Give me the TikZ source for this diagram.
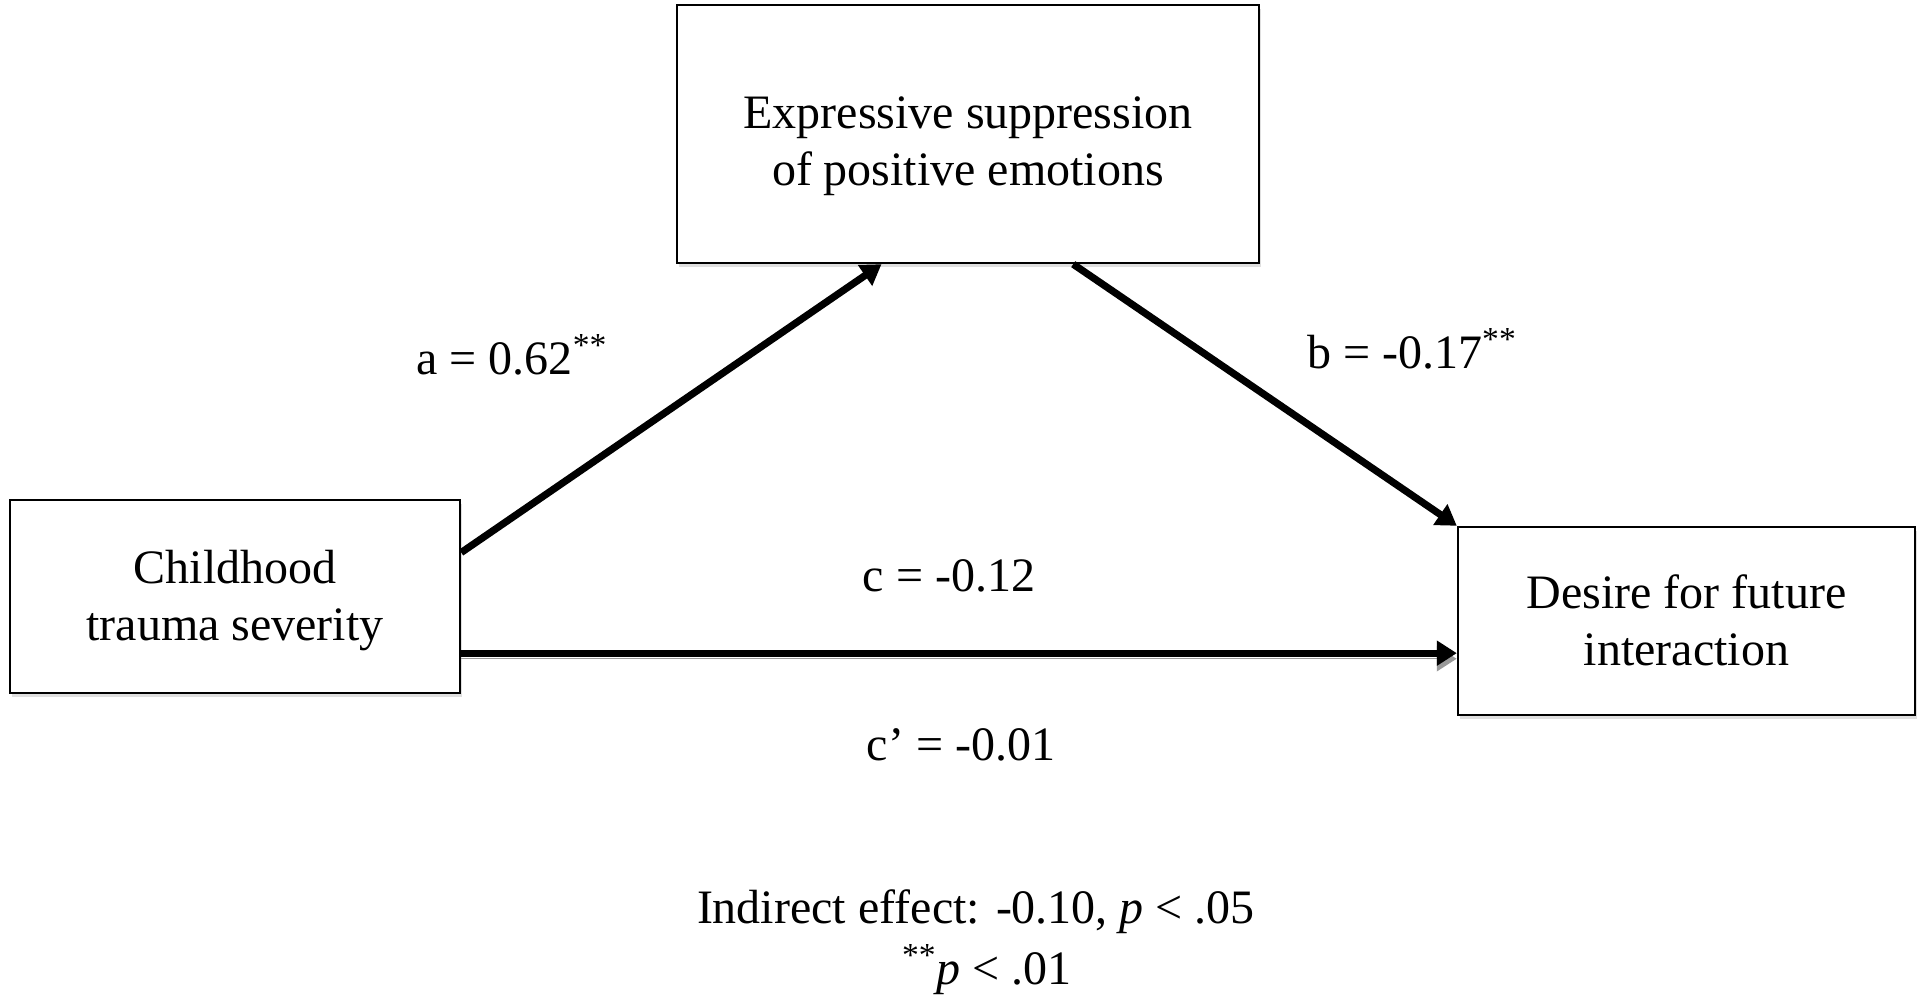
\documentclass[tikz,border=0pt]{standalone}
\usepackage{fontspec}
\setmainfont{Liberation Serif}
\usetikzlibrary{arrows.meta,calc,shadows}
\newcommand{\shiftedlines}[2]{\raisebox{-#1}[\height][\depth]{\begin{tabular}{@{}c@{}}#2\end{tabular}}}
\begin{document}
\begin{tikzpicture}[x=0.5pt,y=-0.5pt,
  box/.style={draw=black,line width=1.2pt,fill=white,align=center,inner sep=0pt,
    font=\fontsize{24}{28.5}\selectfont,
    drop shadow={shadow xshift=1pt,shadow yshift=-2pt,opacity=0.25,fill=gray}},
  lbl/.style={font=\fontsize{24}{28.5}\selectfont,inner sep=0pt,align=center},
  arr/.style={line width=3.6pt,-{Triangle[length=10pt,width=12pt]}},
  shadowed/.style={preaction={draw=gray!80,transform canvas={yshift=-2.8pt}}}
]
\useasboundingbox[fill=white] (0,0) rectangle (1920,999);
\node[box,minimum width=291pt,minimum height=129pt] (ex) at (968,134)
  {\shiftedlines{6pt}{Expressive suppression\\of positive emotions}};
\node[box,minimum width=225pt,minimum height=96.5pt] (tr) at (235,596.5)
  {\shiftedlines{2pt}{Childhood\\trauma severity}};
\node[box,minimum width=228.5pt,minimum height=94pt] (de) at (1686.5,621)
  {\shiftedlines{2.5pt}{Desire for future\\interaction}};
\coordinate (a0) at ($(tr.north east)!0.275!(tr.south east)$);
\coordinate (a1) at ($(ex.south west)!0.352!(ex.south east)$);
\coordinate (b0) at ($(ex.south west)!0.68!(ex.south east)$);
\coordinate (c0) at ($(tr.north east)!0.79!(tr.south east)$);
\draw[arr] (a0) -- (a1);
\draw[arr] (b0) -- (de.north west);
\draw[arr,shadowed] (c0) -- (c0 -| de.west);
\node[lbl] (la) at (512,355) {a = 0.62\textsuperscript{**}};
\node[lbl] (lb) at (1412,349) {b = -0.17\textsuperscript{**}};
\node[lbl] (lc) at (949,576) {c = -0.12};
\node[lbl] (lcp) at (961,745) {c’ = -0.01};
\node[lbl] (ind) at (976,912) {Indirect effect: -0.10, \textit{p} < .05};
\node[lbl] (sig) at (987,970) {\textsuperscript{**}\textit{p} < .01};
\end{tikzpicture}
\end{document}
